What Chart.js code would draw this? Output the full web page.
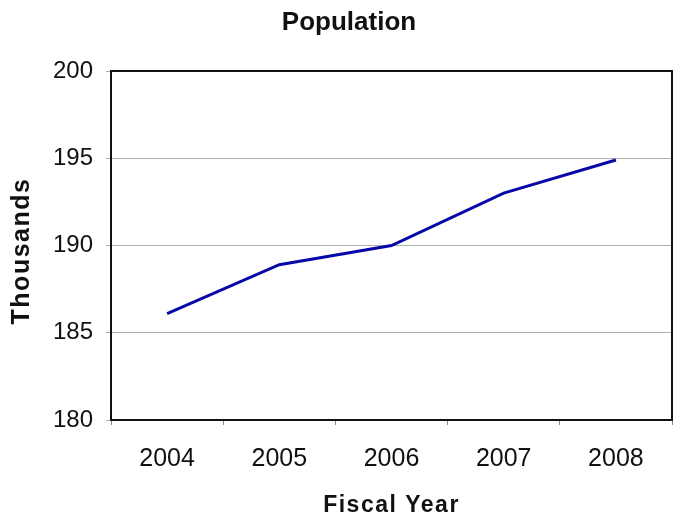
<!DOCTYPE html>
<html>
<head>
<meta charset="utf-8">
<script src="https://cdn.jsdelivr.net/npm/chart.js@4"></script>
<style>
  html,body{margin:0;padding:0;background:#fff;}
  #wrap{width:681px;height:517px;}
</style>
</head>
<body>
<div id="wrap"><canvas id="chart" width="681" height="517"></canvas></div>
<script>
// data
const years = ["2004","2005","2006","2007","2008"];
const population = [186.1, 188.9, 190.0, 193.0, 194.9];
const yTicks = [180, 185, 190, 195, 200];

const chartTitle = "Population";
const xTitle = "Fiscal Year";
const yTitle = "Thousands";

const FONT = "'Liberation Sans', Arial, sans-serif";

// closes the plot frame on top and right
const frameBox = {
  id: "frameBox",
  beforeDatasetsDraw(chart){
    const {ctx, chartArea:a} = chart;
    ctx.save();
    ctx.strokeStyle = "#111";
    ctx.lineWidth = 2;
    ctx.strokeRect(a.left, a.top, a.right - a.left, a.bottom - a.top);
    ctx.restore();
  }
};

// titles drawn by hand: the reference spaces its letters out a bit
const titles = {
  id: "titles",
  afterDraw(chart){
    const {ctx, chartArea:a} = chart;
    ctx.save();
    ctx.fillStyle = "#111";
    ctx.textAlign = "center";
    ctx.textBaseline = "middle";

    ctx.font = "bold 26px " + FONT;
    ctx.fillText(chartTitle, 349, 23);

    ctx.letterSpacing = "1.5px";
    ctx.font = "bold 23px " + FONT;
    ctx.fillText(xTitle, (a.left + a.right) / 2, 506);

    ctx.translate(22, 251);
    ctx.rotate(-Math.PI / 2);
    ctx.font = "bold 25px " + FONT;
    ctx.fillText(yTitle, 0, 0);
    ctx.restore();
  }
};

new Chart(document.getElementById("chart"), {
  type: "line",
  data: {
    labels: years,
    datasets: [{
      data: population,
      borderColor: "#0808a8",
      borderWidth: 3,
      pointRadius: 0,
      tension: 0
    }]
  },
  options: {
    responsive: false,
    animation: false,
    layout: {padding: {left: 0, right: 9, top: 71, bottom: 0}},
    plugins: {
      legend: {display: false},
      tooltip: {enabled: false},
      title: {display: false}
    },
    scales: {
      x: {
        offset: true,
        grid: {offset: true, drawOnChartArea: false, drawTicks: true, tickLength: 5, color: "#888", lineWidth: 1},
        border: {color: "#111", width: 2},
        ticks: {color: "#111", font: {family: FONT, size: 25, lineHeight: 1.2}, padding: 19, maxRotation: 0},
        afterFit(scale){ scale.height = 97; }
      },
      y: {
        min: 180,
        max: 200,
        afterBuildTicks(scale){ scale.ticks = yTicks.map(v => ({value: v})); },
        grid: {color: "#a9b0b0", lineWidth: 1, tickLength: 5},
        border: {color: "#111", width: 2},
        ticks: {color: "#111", font: {family: FONT, size: 24}, padding: 13},
        afterFit(scale){ scale.width = 111; }
      }
    }
  },
  plugins: [frameBox, titles]
});
</script>
</body>
</html>
